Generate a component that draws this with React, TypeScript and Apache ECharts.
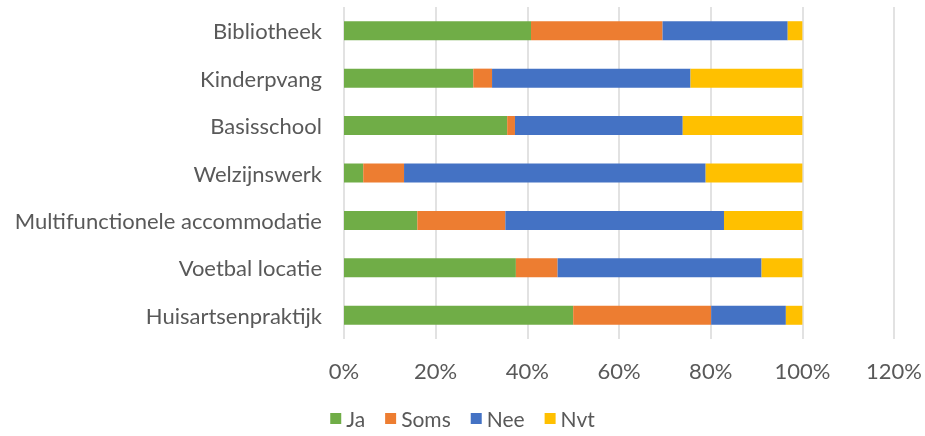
import React, { useEffect, useRef } from "react";
import * as echarts from "echarts";

const categories = [
  "Bibliotheek",
  "Kinderpvang",
  "Basisschool",
  "Welzijnswerk",
  "Multifunctionele accommodatie",
  "Voetbal locatie",
  "Huisartsenpraktijk",
];
const ja = [40.8, 28.2, 35.6, 4.2, 16.0, 37.5, 50.0];
const soms = [28.7, 4.1, 1.7, 8.9, 19.2, 9.1, 30.1];
const nee = [27.3, 43.3, 36.6, 65.8, 47.7, 44.5, 16.3];
const nvt = [3.2, 24.4, 26.1, 21.1, 17.1, 8.9, 3.6];
const seriesNames = ["Ja", "Soms", "Nee", "Nvt"];
const colors = ["#70AD47", "#ED7D31", "#4472C4", "#FFC000"];

const FONT = "Lato";

export default function App() {
  const ref = useRef<HTMLDivElement>(null);
  useEffect(() => {
    if (!ref.current) return;
    const chart = echarts.init(ref.current, null, { renderer: "svg" });
    const values = [ja, soms, nee, nvt];
    chart.setOption({
      animation: false,
      textStyle: { fontFamily: FONT },
      grid: { left: 344, right: 30, top: 7, bottom: 97, containLabel: false },
      legend: {
        top: 406,
        left: "center",
        itemWidth: 11,
        itemHeight: 11,
        itemGap: 20,
        icon: "rect",
        padding: 2,
        textStyle: { fontSize: 21, color: "#595959", fontFamily: FONT },
        data: seriesNames,
      },
      xAxis: {
        type: "value",
        min: 0,
        max: 120,
        interval: 20,
        axisLine: { show: false },
        axisTick: { show: false },
        splitLine: { show: true, lineStyle: { color: "#D9D9D9", width: 1.5 } },
        axisLabel: {
          formatter: "{value}%",
          fontSize: 22,
          color: "#595959",
          margin: 20,
          fontFamily: FONT,
        },
      },
      yAxis: {
        type: "category",
        inverse: true,
        data: categories,
        axisLine: { show: false },
        axisTick: { show: false },
        axisLabel: { fontSize: 22, color: "#595959", margin: 22, fontFamily: FONT },
      },
      series: seriesNames.map((name, i) => ({
        name,
        type: "bar",
        stack: "total",
        barWidth: 19,
        itemStyle: { color: colors[i] },
        data: values[i],
      })),
    });
    return () => chart.dispose();
  }, []);
  return (
    <div
      ref={ref}
      style={{ position: "fixed", left: 0, top: 0, width: 925, height: 436 }}
    />
  );
}
